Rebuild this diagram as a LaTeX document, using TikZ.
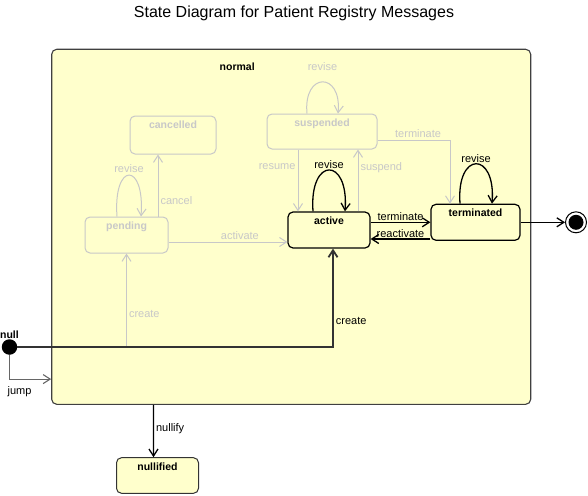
\documentclass[tikz,border=0pt]{standalone}
\usepackage{fontspec}
\setmainfont{Liberation Sans}
\usepackage{tikz}
\usetikzlibrary{arrows.meta, positioning, calc}
\definecolor{stfill}{HTML}{FFFFCC}
\definecolor{fadegray}{RGB}{200,200,200}
\definecolor{darkline}{RGB}{51,51,51}
\tikzset{
  state/.style  = {rectangle, draw, fill=stfill, rounded corners=5pt,
    line width=1.2pt, minimum height=36pt, inner sep=0pt},
  fstate/.style = {state, draw=fadegray, line width=1pt},
  stname/.style = {font=\fontsize{10.5}{12}\selectfont\bfseries,
    anchor=north, inner sep=0pt, yshift=-5pt},
  arrow/.style  = {line width=1.3pt, -{Straight Barb[length=7pt,width=9pt]}},
  farrow/.style = {arrow, fadegray, line width=1pt},
  lbl/.style    = {font=\fontsize{11}{13}\selectfont, inner sep=2pt},
}

\begin{document}
\begin{tikzpicture}[x=1pt, y=-1pt]
  \useasboundingbox (0,0) rectangle (588,495);

  % Title
  \node[font=\fontsize{16}{18}\selectfont] (title) at (294,13) {State Diagram for Patient Registry Messages};

  % Composite state
  \node[state, draw=black!75, line width=1.1pt, minimum width=479pt, minimum height=355pt,
    label={[stname, xshift=-54pt, yshift=-9pt]north:normal}] (normal) at (291.2,226.8) {};

  % Faded states
  \node[fstate, minimum width=86pt, minimum height=38pt,
    label={[stname, fadegray]north:cancelled}] (cancelled) at (173,135) {};
  \node[fstate, minimum width=110pt, minimum height=35pt,
    label={[stname, fadegray]north:suspended}] (suspended) at (322,131.5) {};
  \node[fstate, minimum width=83pt,
    label={[stname, fadegray]north:pending}] (pending) at (126.5,235) {};

  % Active states
  \node[state, minimum width=82pt,
    label={[stname]north:active}] (active) at (329,230) {};
  \node[state, minimum width=89pt,
    label={[stname]north:terminated}] (terminated) at (475.5,222.3) {};
  \node[state, line width=1pt, draw=black!80, minimum width=82pt, minimum height=35.6pt,
    label={[stname]north:nullified}] (nullified) at (157.5,475.5) {};

  % Pseudo states
  \node[circle, fill=black, minimum size=15.5pt, inner sep=0pt,
    label={[stname, anchor=south, yshift=5pt]north:null}] (null) at (9.5,347) {};
  \node[circle, draw, fill=white, line width=1pt, minimum size=21pt, inner sep=0pt] (final) at (576,222.3) {};
  \fill (final.center) circle (7.5pt);

  % Faded transitions
  \draw[farrow] ([xshift=-9.5pt]pending.north) .. controls +(-4,-55) and +(4,-55) .. ([xshift=14.5pt]pending.north)
    node[midway, above, lbl] {revise};
  \draw[farrow] ([xshift=31.5pt]pending.north) -- ([xshift=-15pt]cancelled.south)
    node[pos=0.25, right, lbl] {cancel};
  \draw[farrow] ([yshift=-7pt]pending.east) -- ([yshift=-12pt]active.west)
    node[pos=0.6, above, lbl] {activate};
  \draw[farrow] ([xshift=-15pt]suspended.north) .. controls +(-4,-42) and +(4,-42) .. ([xshift=16pt]suspended.north)
    node[midway, above=9pt, lbl] {revise};
  \draw[farrow] ([xshift=-24pt]suspended.south) -- ([xshift=-31pt]active.north)
    node[pos=0.27, left, lbl] {resume};
  \draw[farrow] ([xshift=29pt]active.north) -- ([xshift=36pt]suspended.south)
    node[pos=0.71, right, lbl] {suspend};
  \draw[farrow] ([yshift=-8.5pt]suspended.east) -| ([xshift=-25.5pt]terminated.north)
    node[pos=0.28, above, lbl] {terminate};
  \draw[farrow] (pending.south |- null.center) -- (pending.south)
    node[pos=0.35, right, lbl] {create};

  % Active transitions
  \draw[arrow] ([xshift=-16pt]active.north) .. controls +(-4,-55) and +(4,-55) .. ([xshift=16pt]active.north)
    node[midway, above, lbl, inner sep=1pt] {revise};
  \draw[arrow] ([yshift=7.7pt]active.east) -- (terminated.west)
    node[midway, above, lbl, inner sep=1pt] {terminate};
  \draw[arrow] ([yshift=-16.7pt]terminated.west) -- ([yshift=-9pt]active.east)
    node[midway, above, lbl, inner sep=1pt] {reactivate};
  \draw[arrow] ([xshift=-15.5pt]terminated.north) .. controls +(-4,-53) and +(4,-53) .. ([xshift=16.5pt]terminated.north)
    node[midway, above, lbl, inner sep=1pt] {revise};
  \draw[arrow] (terminated.east) -- (final.west);

  % From null
  \draw[arrow, darkline, line width=1.8pt] (null.east) -| ([xshift=4pt]active.south)
    node[pos=0.63, right, lbl, black] {create};
  \draw[arrow, black!60, line width=1.1pt] (null.south) |- ([yshift=-152.3pt]normal.west)
    node[pos=0.62, below=5pt, lbl, black] {jump};
  \draw[arrow] ([xshift=-137.8pt]normal.south) -- ([xshift=-4pt]nullified.north)
    node[pos=0.46, right, lbl] {nullify};
\end{tikzpicture}
\end{document}
